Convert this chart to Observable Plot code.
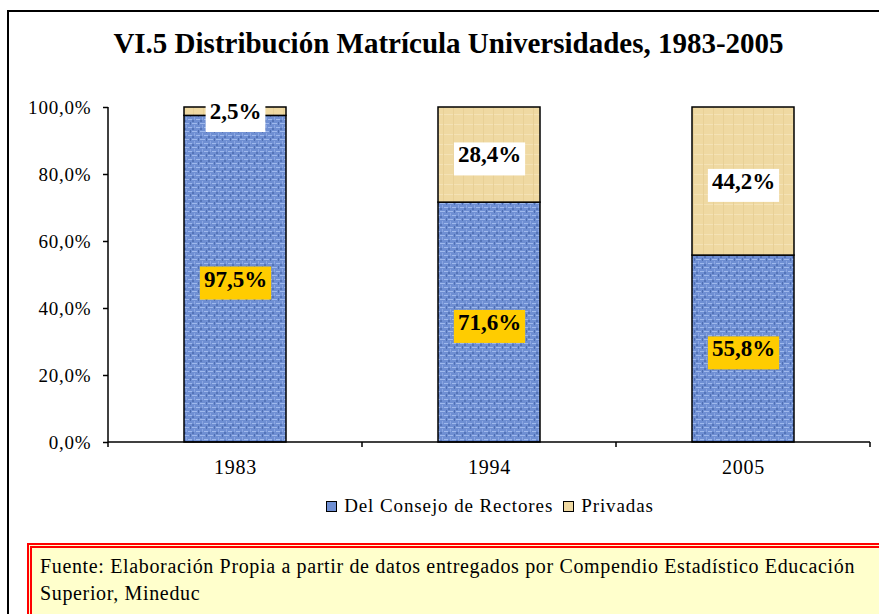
<!DOCTYPE html>
<html>
<head>
<meta charset="utf-8">
<script src="https://cdn.jsdelivr.net/npm/d3@7"></script>
<script src="https://cdn.jsdelivr.net/npm/@observablehq/plot@0.6"></script>
<style>
  html, body { margin: 0; padding: 0; width: 879px; height: 614px; overflow: hidden; background: #fff; }
  body { position: relative; font-family: "Liberation Serif", "Times New Roman", serif; }
  #frame { position: absolute; left: 7px; top: 10px; width: 900px; height: 700px; border: 2px solid #000; box-sizing: border-box; }
  #title { position: absolute; left: 0; width: 897px; top: 27px; text-align: center; font-weight: bold; font-size: 29px; color: #000; white-space: nowrap; }
  #chart { position: absolute; left: 0; top: 90px; }
  #legend { position: absolute; left: 0; width: 970px; top: 495px; text-align: center; font-size: 19px; letter-spacing: 0.9px; color: #000; white-space: nowrap; }
  #legend span.sw { display: inline-block; width: 9px; height: 9px; border: 1px solid #000; margin: 0 7px 0 10px; vertical-align: 0px; }
  #footer { position: absolute; left: 27px; top: 543px; width: 870px; height: 100px; border: 5px double #ff0000; background: #ffffcc; box-sizing: border-box; padding: 5px 0 0 8px; font-size: 20px; letter-spacing: 0.65px; line-height: 27px; color: #000; }
</style>
</head>
<body>
<div id="frame"></div>
<div id="title">VI.5 Distribución Matrícula Universidades, 1983-2005</div>
<div id="chart"></div>
<div id="legend"></div>
<div id="footer">Fuente: Elaboración Propia a partir de datos entregados por Compendio Estadístico Educación<br>Superior, Mineduc</div>
<script>
// ---- data ----
const years = ["1983", "1994", "2005"];
const groups = ["Del Consejo de Rectores", "Privadas"];
const consejo = [97.5, 71.6, 55.8];
const privadas = [2.5, 28.4, 44.2];
const yTicks = [0, 20, 40, 60, 80, 100];

const groupFills = ["url(#texBlue)", "url(#texTan)"];
const swatchColors = ["#6f8fd3", "#efd9a2"];
const labelBgs = ["#ffcc00", "#ffffff"];

const rows = [];
years.forEach((y, i) => {
  rows.push({year: y, group: groups[0], value: consejo[i]});
  rows.push({year: y, group: groups[1], value: privadas[i]});
});

const fmt = v => v.toFixed(1).replace(".", ",") + "%";

// axis lines and band-boundary ticks, drawn from the scales
function axisFrame(index, scales, values, dims) {
  const sx = scales.x, sy = scales.y;
  const bw = typeof sx.bandwidth === "function" ? sx.bandwidth() : sx.bandwidth;
  const step = typeof sx.step === "function" ? sx.step() : sx.step;
  const g = d3.create("svg:g").attr("stroke", "#000").attr("fill", "none");
  const y0 = sy(0), y1 = sy(100);
  const left = sx(years[0]) + bw / 2 - step / 2;
  const right = sx(years[years.length - 1]) + bw / 2 + step / 2;
  g.append("line").attr("x1", left).attr("x2", left).attr("y1", y1).attr("y2", y0 + 5).attr("stroke-width", 1.5);
  g.append("line").attr("x1", left).attr("x2", right).attr("y1", y0).attr("y2", y0).attr("stroke-width", 1.5);
  years.forEach(c => {
    const b = sx(c) + bw / 2 + step / 2;
    g.append("line").attr("x1", b).attr("x2", b).attr("y1", y0).attr("y2", y0 + 5).attr("stroke-width", 1.5);
  });
  return g.node();
}

const chart = Plot.plot({
  width: 879,
  height: 410,
  marginLeft: 108,
  marginRight: 9,
  marginTop: 17,
  marginBottom: 58,
  style: {fontFamily: "'Liberation Serif', 'Times New Roman', serif", fontSize: "19px", color: "#000", background: "transparent", overflow: "visible", letterSpacing: "0.8px"},
  x: {domain: years, paddingInner: 0.6, paddingOuter: 0.3, label: null},
  y: {domain: [0, 100], label: null},
  color: {domain: groups, range: groupFills},
  marks: [
    Plot.barY(rows, {x: "year", y: "value", fill: "group", stroke: "#000", strokeWidth: 1.5}),
    Plot.axisY({ticks: yTicks, tickFormat: fmt, tickSize: 5, tickPadding: 12, strokeWidth: 1.5, fontSize: 19}),
    Plot.axisX({tickSize: 0, tickPadding: 17, fontSize: 20}),
    axisFrame,
    Plot.text(rows, Plot.stackY({x: "year", y: "value", text: d => fmt(d.value), fontWeight: "bold", fontSize: 23, fill: "#000"}))
  ]
});

document.getElementById("chart").appendChild(chart);

// texture patterns
const defs = d3.select(chart).insert("defs", ":first-child");
const pb = defs.append("pattern").attr("id", "texBlue").attr("patternUnits", "userSpaceOnUse").attr("width", 8).attr("height", 8);
pb.append("rect").attr("width", 8).attr("height", 8).attr("fill", "#6f8fd3");
pb.append("rect").attr("x", 0).attr("y", 1).attr("width", 5).attr("height", 1).attr("fill", "#9fb9ec");
pb.append("rect").attr("x", 4).attr("y", 5).attr("width", 4).attr("height", 1).attr("fill", "#9fb9ec");
pb.append("rect").attr("x", 2).attr("y", 3).attr("width", 1).attr("height", 3).attr("fill", "#8aa6e2");
pb.append("rect").attr("x", 6).attr("y", 0).attr("width", 1).attr("height", 3).attr("fill", "#4f6fb3");
pb.append("rect").attr("x", 0).attr("y", 6).attr("width", 2).attr("height", 2).attr("fill", "#5474b8");
const pt = defs.append("pattern").attr("id", "texTan").attr("patternUnits", "userSpaceOnUse").attr("width", 10).attr("height", 10);
pt.append("rect").attr("width", 10).attr("height", 10).attr("fill", "#efd9a2");
pt.append("rect").attr("x", 0).attr("y", 4).attr("width", 10).attr("height", 1).attr("fill", "#f4e2b6");
pt.append("rect").attr("x", 3).attr("y", 0).attr("width", 1).attr("height", 10).attr("fill", "#e8d096");

// label backgrounds
const labelGroup = Array.from(chart.querySelectorAll('g[aria-label="text"]')).pop();
if (labelGroup) {
  labelGroup.setAttribute("letter-spacing", "0");
  const texts = Array.from(labelGroup.querySelectorAll("text"));
  texts.forEach((t, i) => {
    const bb = t.getBBox();
    const r = document.createElementNS("http://www.w3.org/2000/svg", "rect");
    r.setAttribute("x", bb.x - 4);
    r.setAttribute("y", bb.y);
    r.setAttribute("width", bb.width + 8);
    r.setAttribute("height", bb.height + 8);
    r.setAttribute("transform", t.getAttribute("transform") || "");
    r.setAttribute("fill", labelBgs[groups.indexOf(rows[i].group)]);
    t.parentNode.insertBefore(r, t);
  });
}

// legend
const legend = document.getElementById("legend");
groups.forEach((g, i) => {
  const sw = document.createElement("span");
  sw.className = "sw";
  sw.style.background = swatchColors[i];
  legend.appendChild(sw);
  legend.appendChild(document.createTextNode(g));
});
</script>
</body>
</html>
